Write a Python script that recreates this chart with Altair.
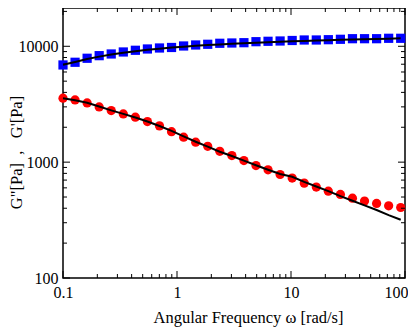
import altair as alt
import pandas as pd

# Angular frequency [rad/s]
freq = [0.1, 0.1276, 0.1628, 0.2077, 0.2649, 0.3381, 0.4313, 0.5502, 0.7020, 0.8955,
        1.143, 1.458, 1.860, 2.373, 3.028, 3.864, 4.929, 6.289, 8.025, 10.24,
        13.06, 16.67, 21.26, 27.13, 34.61, 44.16, 56.35, 71.88, 91.7]

# G' (storage modulus) measured, blue squares
g_storage = [6899, 7278, 7882, 8300, 8582, 8930, 9237, 9478, 9667, 9765,
             10060, 10261, 10405, 10614, 10676, 10740, 10956, 11042, 11109, 11220,
             11332, 11332, 11400, 11490, 11627, 11627, 11627, 11720, 11720]

# G'' (loss modulus) measured, red circles
g_loss = [3562, 3444, 3245, 2997, 2785, 2609, 2443, 2239, 2056, 1832,
          1643, 1488, 1369, 1239, 1140, 1032, 935, 858, 782, 728,
          659, 609, 562, 526, 489, 461, 440, 420, 406]

# model fits (black lines)
fit_storage = [6920, 7330, 7760, 8140, 8480, 8790, 9070, 9320, 9540, 9740,
               9920, 10090, 10240, 10380, 10510, 10630, 10740, 10840, 10940, 11030,
               11120, 11200, 11280, 11360, 11430, 11500, 11570, 11640, 11710]
fit_loss = [3560, 3420, 3250, 3020, 2800, 2610, 2430, 2240, 2050, 1860,
            1670, 1500, 1360, 1230, 1130, 1030, 940, 860, 790, 748,
            675, 616, 562, 509, 464, 423, 386, 349, 318]

x_major = [0.1, 1, 10, 100]
x_minor = [0.2, 0.3, 0.4, 0.5, 0.6, 0.7, 0.8, 0.9,
           2, 3, 4, 5, 6, 7, 8, 9,
           20, 30, 40, 50, 60, 70, 80, 90]
y_major = [100, 1000, 10000]
y_minor = [200, 300, 400, 500, 600, 700, 800, 900,
           2000, 3000, 4000, 5000, 6000, 7000, 8000, 9000, 20000]

W, H = 342, 270
FONT = "Liberation Serif"

df = pd.DataFrame({"freq": freq, "gs": g_storage, "gl": g_loss,
                   "fs": fit_storage, "fl": fit_loss})

xscale = alt.Scale(type="log", domain=[0.1, 100], nice=False, zero=False)
yscale = alt.Scale(type="log", domain=[100, 21400], nice=False, zero=False)

xaxis = alt.Axis(values=x_major, format="~g", ticks=False, tickSize=0, domain=False,
                 grid=False, labelFont=FONT, labelFontSize=16, labelColor="black",
                 labelPadding=6, labelFlush=False,
                 labelOffset=alt.ExprRef("datum.value >= 100 ? -9 : 0"),
                 title="Angular Frequency ω [rad/s]", titleFont=FONT, titleFontSize=16.5,
                 titleFontWeight="normal", titleColor="black",
                 titleX=185, titleY=44, titleBaseline="alphabetic", titleAlign="center")
yaxis = alt.Axis(values=y_major, format="d", ticks=False, tickSize=0, domain=False,
                 grid=False, labelFont=FONT, labelFontSize=16, labelColor="black",
                 labelPadding=5, labelFlush=False,
                 title="G\"[Pa]\u00a0 ,\u00a0\u00a0 G'[Pa]", titleFont=FONT, titleFontSize=16.5,
                 titleFontWeight="normal", titleColor="black", titleAngle=-90,
                 titleX=-42, titleY=144, titleBaseline="alphabetic", titleAlign="center")

base = alt.Chart(df)

def X(f):
    return alt.X(f, type="quantitative", scale=xscale, axis=xaxis)

def Y(f):
    return alt.Y(f, type="quantitative", scale=yscale, axis=yaxis)

sq = base.mark_point(shape="square", filled=True, size=85, color="#0000ff", opacity=1).encode(
    x=X("freq"), y=Y("gs"))
ci = base.mark_circle(size=85, color="#ff0000", opacity=1).encode(
    x=X("freq"), y=Y("gl"))
ln1 = base.mark_line(color="black", strokeWidth=2).encode(x=X("freq"), y=Y("fs"))
ln2 = base.mark_line(color="black", strokeWidth=2).encode(x=X("freq"), y=Y("fl"))

def yticks(vals, length):
    d = alt.Chart(pd.DataFrame({"v": vals}))
    left = d.mark_rule(color="black", strokeWidth=1).encode(
        y=Y("v"), x=alt.value(0), x2=alt.value(length))
    right = d.mark_rule(color="black", strokeWidth=1).encode(
        y=Y("v"), x=alt.value(W - length), x2=alt.value(W))
    return [left, right]

def xticks(vals, length):
    d = alt.Chart(pd.DataFrame({"v": vals}))
    bottom = d.mark_rule(color="black", strokeWidth=1).encode(
        x=X("v"), y=alt.value(H - length), y2=alt.value(H))
    top = d.mark_rule(color="black", strokeWidth=1).encode(
        x=X("v"), y=alt.value(0), y2=alt.value(length))
    return [bottom, top]

layers = [sq, ci, ln1, ln2] + yticks(y_major, 7) + yticks(y_minor, 4) + xticks(x_major, 7) + xticks(x_minor, 4)

chart = alt.layer(*layers).properties(
    width=W, height=H,
    background="white",
    autosize=alt.AutoSizeParams(type="none"),
    padding={"left": 55, "top": 0, "right": 3, "bottom": 50},
).configure_view(stroke="black", strokeWidth=1.5)

chart.save("out.html", embed_options={"renderer": "svg", "actions": False})
